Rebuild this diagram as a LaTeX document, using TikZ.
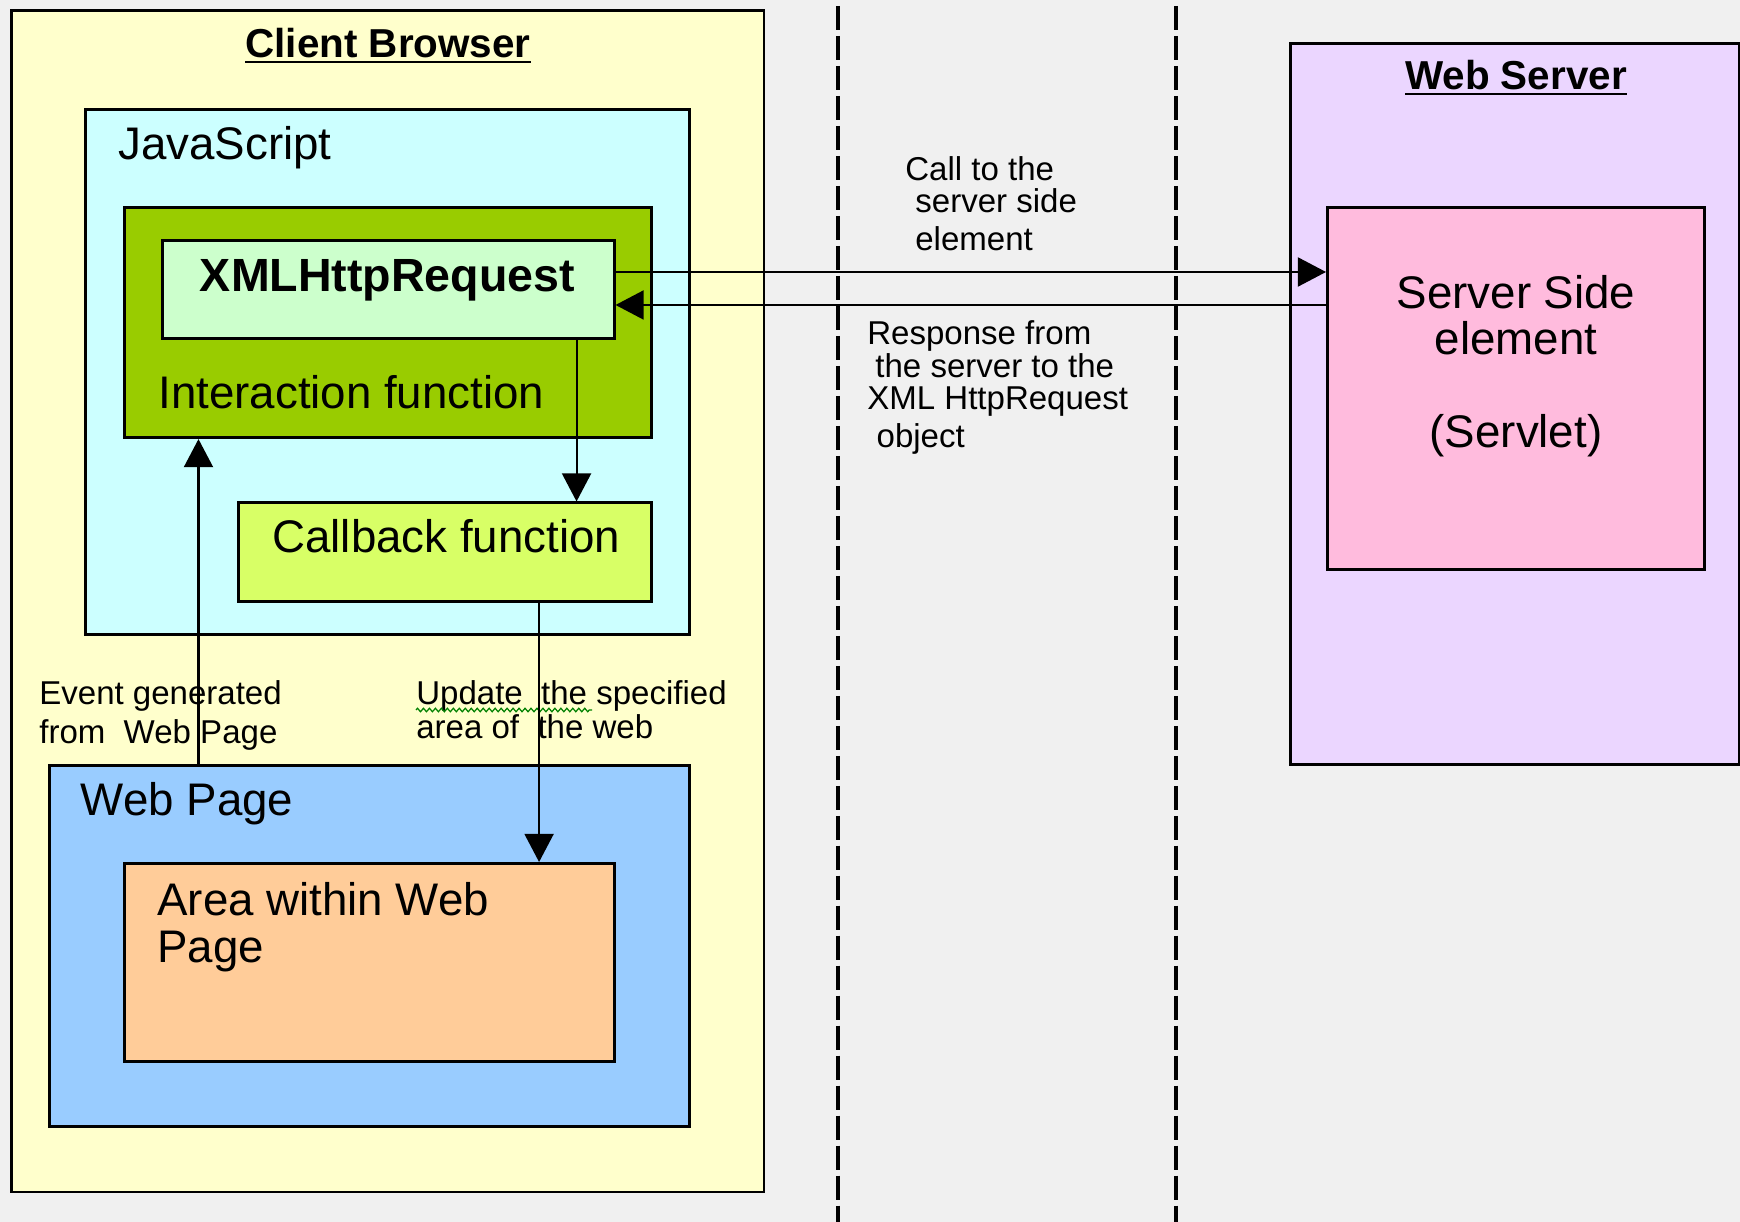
\documentclass[tikz,border=0pt]{standalone}
\usepackage{fontspec}
\setmainfont{Liberation Sans}
\usepackage{tikz}
\usetikzlibrary{arrows.meta,decorations.pathmorphing}
\usepackage{xcolor}
\definecolor{bgray}{HTML}{F0F0F0}
\definecolor{browserfill}{HTML}{FFFFCC}
\definecolor{jsfill}{HTML}{CCFFFF}
\definecolor{interactfill}{HTML}{99CC00}
\definecolor{xhrfill}{HTML}{CCFFCC}
\definecolor{callbackfill}{HTML}{D8FF66}
\definecolor{pagefill}{HTML}{99CCFF}
\definecolor{areafill}{HTML}{FFCC99}
\definecolor{serverfill}{HTML}{EBD6FF}
\definecolor{servletfill}{HTML}{FFBBDD}
\newcommand\titleul[1]{\vtop{\hbox{#1}\kern1.5pt\hrule height 1.4pt}}

\begin{document}
\begin{tikzpicture}[x=0.02cm, y=-0.02cm,
		arr/.style={line width=1.2pt, -{Triangle[length=16pt, width=16.5pt]}},
		divider/.style={line width=2.3pt, dash pattern=on 13.66pt off 3.41pt, dash phase=13.66pt}]
		\tikzstyle{box}=[draw, line width=1.5pt, inner sep=0pt, anchor=north west]
		\tikzstyle{big}=[font=\fontsize{26}{26.5}\selectfont, inner sep=0pt, anchor=base west]
		\tikzstyle{small}=[font=\fontsize{18.8}{18.5}\selectfont, inner sep=0pt, anchor=base west, align=left]
		\tikzstyle{title}=[font=\fontsize{23}{26}\selectfont\bfseries, inner sep=0pt, anchor=base]
		\path[use as bounding box, fill=bgray] (0,0) rectangle (1740,1222);
		\draw[divider] (838,0) -- (838,1222);
		\draw[divider] (1176,0) -- (1176,1222);
		% client side
		\node[box, fill=browserfill, minimum width=15.06cm, minimum height=23.64cm] (browser) at (10,9) {};
		\node[box, fill=jsfill, minimum width=12.08cm, minimum height=10.5cm] (js) at (84,108) {};
		\node[box, fill=interactfill, minimum width=10.54cm, minimum height=4.6cm] (interact) at (123,206.5) {};
		\node[box, fill=xhrfill, minimum width=9.04cm, minimum height=1.97cm] (xhr) at (161,239) {};
		\node[box, fill=callbackfill, minimum width=8.26cm, minimum height=1.97cm] (callback) at (237,501.5) {};
		\node[box, fill=pagefill, minimum width=12.8cm, minimum height=7.22cm] (webpage) at (48,764) {};
		\node[box, fill=areafill, minimum width=9.8cm, minimum height=3.96cm] (area) at (123,862) {};
		% server side
		\node[box, fill=serverfill, minimum width=8.98cm, minimum height=14.43cm] (server) at (1289,42) {};
		\node[box, fill=servletfill, minimum width=7.54cm, minimum height=7.23cm] (servlet) at (1326,206.5) {};
		% texts (multi-line ones sit on their last line)
		\node[title] (browsertitle) at (388,58) {\titleul{Client Browser}};
		\node[title] (servertitle) at (1516,90) {\titleul{Web Server}};
		\node[big] (jslabel) at (118,160) {JavaScript};
		\node[big, font=\fontsize{26.5}{26.5}\selectfont\bfseries, anchor=base] (xhrlabel) at (387.5,292) {XMLHttpRequest};
		\node[big] (interactlabel) at (158,409) {Interaction function};
		\node[big] (callbacklabel) at (272,553) {Callback function};
		\node[big] (pagelabel) at (80.5,815.6) {Web Page};
		\node[big, align=left, font=\fontsize{26}{26.7}\selectfont] (arealabel) at (157,962) {Area within Web\\Page};
		\node[big, align=center, anchor=base] (servletlabel) at (1516,448) {Server Side\\element\\[26.5pt](Servlet)};
		\node[small] (calllabel) at (905,251) {Call to the\\\hspace*{5.7pt}server side\\[3.4pt]\hspace*{5.7pt}element};
		\node[small] (resplabel) at (867,448) {Response from\\\hspace*{4.6pt}the server to the\\XML HttpRequest\\[3.4pt]\hspace*{5.3pt}object};
		\node[small] (eventlabel) at (39,743.5) {Event generated\\[3.7pt]from~ Web Page};
		\node[small] (updlabel) at (416,738) {Update~ the specified\\[0.6pt]area of~ the web};
		\draw[green!50!black, line width=0.7pt, decorate, decoration={zigzag, segment length=3.4pt, amplitude=1pt}] (416,710) -- (592,710);
		% arrows
		\coordinate (callstart) at ([yshift=-0.66cm]xhr.north east);
		\coordinate (respend) at ([yshift=-1.32cm]xhr.north east);
		\coordinate (xhrout) at ([xshift=-0.78cm]xhr.south east);
		\coordinate (evin) at ([xshift=1.51cm]interact.south west);
		\coordinate (updout) at ([xshift=-2.27cm]callback.south east);
		\draw[arr] (callstart) -- (callstart -| servlet.west);
		\draw[arr] (respend -| servlet.west) -- (respend);
		\draw[arr] (xhrout) -- (xhrout |- callback.north);
		\draw[arr] (evin |- webpage.north) -- (evin);
		\draw[arr] (updout) -- (updout |- area.north);
\end{tikzpicture}
\end{document}
